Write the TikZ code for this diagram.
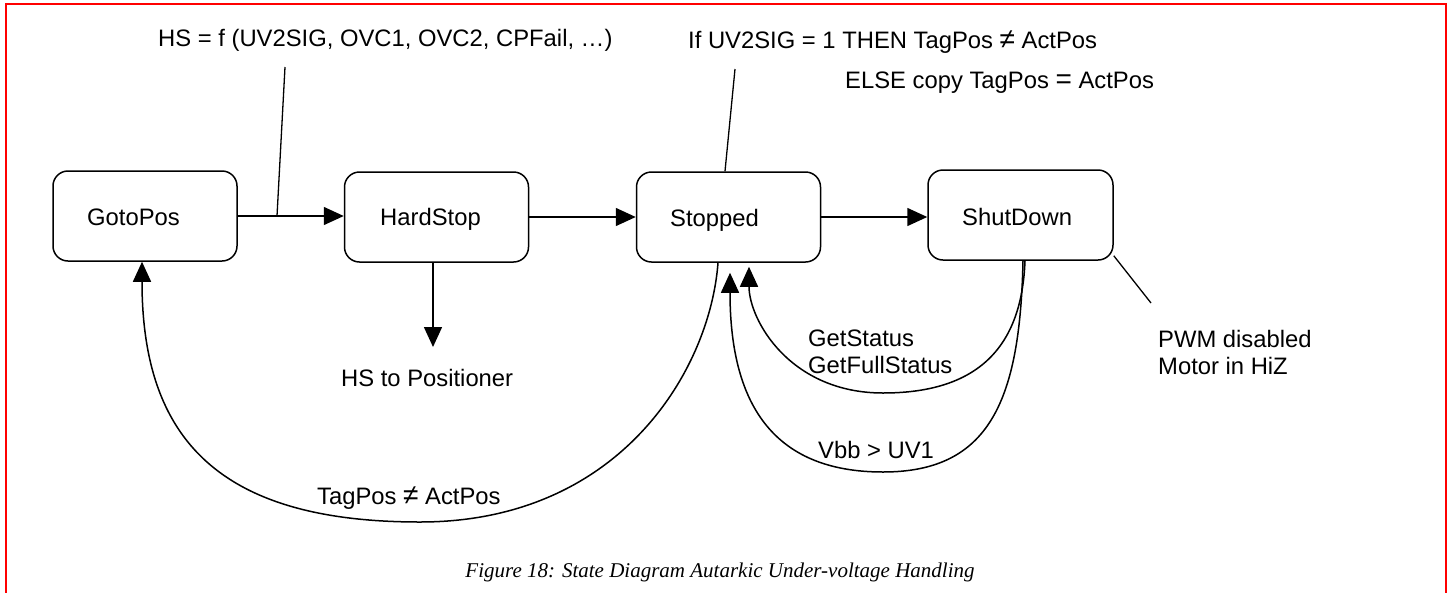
\documentclass[tikz,border=0pt]{standalone}
\usepackage{fontspec}
\setmainfont{Liberation Sans}
\newfontfamily\capfont{Liberation Serif}
\usetikzlibrary{arrows.meta}
\tikzset{
  statebox/.style={draw, line width=1.5pt, rounded corners=15pt, minimum width=184pt, minimum height=90pt, inner sep=0pt},
  lbl/.style={inner sep=0pt, anchor=base west, font=\fontsize{23.8}{27}\selectfont},
  conn/.style={line width=1.5pt},
  arr/.style={line width=1.5pt, -{Triangle[length=20pt,width=18pt]}},
  note/.style={line width=1.3pt},
  frame/.style={draw=red, line width=2pt}
}
\newcommand{\bigsym}[1]{{\fontsize{28}{27}\selectfont #1}}
\begin{document}
\begin{tikzpicture}[x=1pt,y=-1pt]
\useasboundingbox (0,0) rectangle (1450,592);
\fill[white] (0,0) rectangle (1450,592);
\draw[frame] (6,600) -- (6,4) -- (1446,4) -- (1446,600);

% states
\node[statebox] (goto) at (145,216) {};
\node[statebox] (hard) at (436.5,217) {};
\node[statebox] (stop) at (728.5,217) {};
\node[statebox, minimum width=185pt] (shut) at (1020.5,215) {};
\node[lbl] (gototxt) at (87,225) {GotoPos};
\node[lbl] (hardtxt) at (380,225) {HardStop};
\node[lbl] (stoptxt) at (670,226) {Stopped};
\node[lbl] (shuttxt) at (962,225) {ShutDown};

% notes
\node[lbl] (hsnote) at (158,46) {HS = f (UV2SIG, OVC1, OVC2, CPFail, …)};
\node[lbl] (ifnote) at (688,48) {If UV2SIG = 1 THEN TagPos \bigsym{≠} ActPos};
\node[lbl] (elsenote) at (845,88) {ELSE copy TagPos \bigsym{=} ActPos};
\node[lbl] (hspos) at (341,386) {HS to Positioner};
\node[lbl] (tagne) at (317,504) {TagPos \bigsym{≠} ActPos};
\node[lbl, align=left] (getst) at (808,373) {GetStatus\\GetFullStatus};
\node[lbl] (vbb) at (818,458) {Vbb > UV1};
\node[lbl, align=left] (pwm) at (1158,374) {PWM disabled\\Motor in HiZ};
\node[inner sep=0pt, anchor=base, font=\capfont\itshape\fontsize{21}{24}\selectfont] (cap) at (720,577) {Figure 18: State Diagram Autarkic Under-voltage Handling};

% straight transitions
\draw[arr] (goto.east) -- (goto.east -| hard.west);
\draw[arr] (hard.east) -- (stop.west);
\draw[arr] (stop.east) -- (stop.east -| shut.west);

% annotation lines
\coordinate (j) at (277,216);
\coordinate (hstop) at (285,67);
\draw[note] (j) -- (hstop);
\coordinate (iftop) at (735,69);
\draw[note] ([xshift=-3.5pt]stop.north) -- (iftop);
\coordinate (pwmend) at (1151,303);
\draw[note] ([yshift=5pt]shut.south east) -- (pwmend);

% hardstop output
\coordinate (hsend) at (433,347);
\draw[arr] (hsend |- hard.south) -- (hsend);

% curved transitions
\draw[arr] ([xshift=-10.5pt]stop.south) .. controls (710,370) and (620,522) .. (420,522)
  .. controls (220,522) and (142,440) .. ([xshift=-3pt]goto.south);
\draw[arr] ([xshift=4.5pt]shut.south) .. controls (1022,340) and (985,393) .. (883,393)
  .. controls (790,393) and (749,320) .. ([xshift=20.5pt,yshift=-4pt]stop.south);
\draw[arr] ([xshift=2.5pt]shut.south) .. controls (1020,400) and (990,472) .. (883,472)
  .. controls (770,472) and (730,400) .. ([xshift=1.5pt,yshift=-10pt]stop.south);
\end{tikzpicture}
\end{document}
